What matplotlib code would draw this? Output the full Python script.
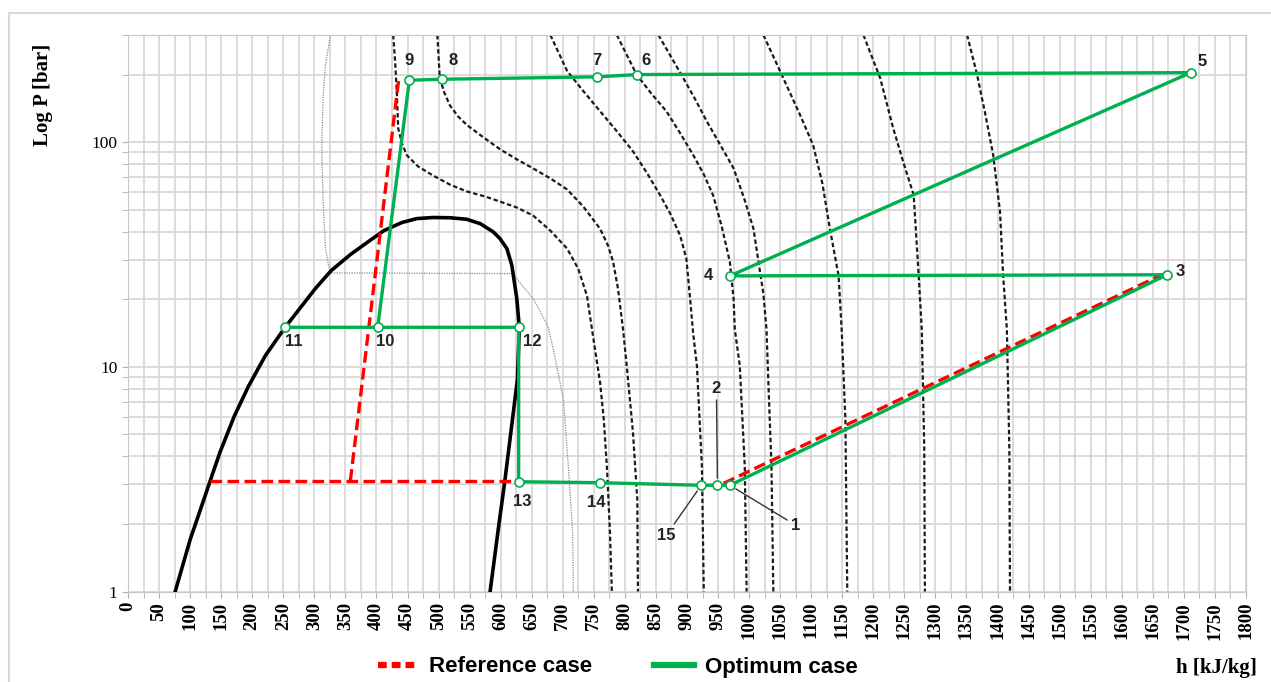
import matplotlib
matplotlib.use('Agg')
import matplotlib.pyplot as plt
from matplotlib.lines import Line2D
from matplotlib.patches import Rectangle
from matplotlib.ticker import MultipleLocator, LogLocator, NullFormatter

# saturation dome (h kJ/kg, P bar)
dome_h = [76, 100, 122, 133, 148, 171, 194, 221, 253, 280, 301, 327, 358, 387, 412, 441, 465, 491, 518, 545,
          567, 588, 599, 610, 618, 626, 630, 627, 617, 607, 596, 583]
dome_p = [1.0, 1.70, 2.56, 3.15, 4.16, 6.02, 8.20, 11.2, 15.0, 18.7, 22.2, 26.8, 31.6, 36.1, 40.4, 43.9, 45.7, 46.2, 46.1, 45.4,
          43.4, 39.9, 37.2, 33.6, 28.3, 20.1, 15.0, 8.81, 5.27, 3.15, 1.88, 1.0]

# thin isotherm crossing the two-phase region
iso0_h = [326, 318, 314, 312, 314, 318, 323, 326, 619, 653, 676, 685, 701, 709, 716, 717]
iso0_p = [300, 221, 157, 94, 56, 33.6, 28.2, 26.2, 26.0, 20.0, 15.2, 11.9, 7.15, 3.59, 1.82, 1.0]

# dashed isotherms
iso_h = [
    [427, 430, 433, 435, 441, 449, 467, 491, 518, 546, 575, 599, 626, 652, 680, 707, 725, 739, 747, 760, 766, 771, 776, 779],
    [498, 502, 509, 518, 531, 546, 572, 599, 626, 652, 680, 707, 733, 760, 773, 781, 789, 797, 803, 813, 820, 821],
    [680, 707, 733, 760, 787, 813, 836, 857, 873, 889, 899, 905, 910, 916, 924, 927],
    [787, 819, 842, 867, 889, 910, 927, 942, 956, 969, 975, 977, 985, 993, 996],
    [854, 894, 913, 932, 953, 975, 992, 1007, 1023, 1028, 1031, 1036, 1039],
    [1023, 1050, 1082, 1103, 1118, 1130, 1144, 1149, 1155, 1158],
    [1184, 1211, 1232, 1248, 1265, 1273, 1278, 1282, 1283],
    [1351, 1367, 1380, 1393, 1404, 1409, 1415, 1419, 1420],
]
iso_p = [
    [300, 230, 162, 115.4, 98.9, 87.4, 78.0, 71.1, 64.8, 60.3, 57.3, 54.4, 51.2, 47.2, 40.4, 33.6, 27.3, 20.7, 14.7, 8.55, 5.84, 3.60, 1.83, 1.0],
    [300, 193, 167, 146.2, 130.6, 119, 105.2, 93, 83.9, 76.5, 69, 61.6, 51.7, 41.2, 34.6, 29.4, 22.2, 14.7, 10.1, 5.11, 2.56, 1.0],
    [300, 207.5, 168.9, 137.4, 111.9, 91.1, 72.6, 57.9, 48.1, 38.4, 30.3, 20.1, 14.0, 10.1, 3.60, 1.0],
    [300, 199.7, 165.4, 137.1, 109.6, 87.7, 71.9, 58.1, 42.1, 29.3, 20.1, 14.7, 10.1, 3.61, 1.0],
    [300, 193, 155.5, 123.6, 97.9, 76.5, 56.2, 41.2, 21.1, 14.7, 8.52, 3.61, 1.0],
    [300, 206.8, 132.3, 97.2, 65.5, 41.2, 25.5, 14.7, 5.84, 1.0],
    [300, 193, 115.4, 81.9, 58.1, 25.5, 14.7, 4.29, 1.0],
    [300, 199.7, 134.6, 87.7, 49.0, 25.5, 14.7, 4.29, 1.0],
]

# optimum cycle state points
pt_names = ['1', '2', '3', '4', '5', '6', '7', '8', '9', '10', '11', '12', '13', '14', '15']
pt_h = [969, 949, 1673, 969, 1711, 820, 755, 505, 453, 402, 252, 629, 629, 760, 923]
pt_p = [2.97, 2.97, 25.7, 25.4, 204, 200, 195.4, 190.6, 188.7, 15, 15, 15, 3.08, 3.05, 2.97]
opt_paths = [['1', '3', '4', '5', '6', '7', '8', '9', '10'],
             ['11', '10', '12', '13', '14', '15', '2', '1']]

# reference case segments
ref_h = [[132, 628], [358, 436], [959, 1663]]
ref_p = [[3.11, 3.11], [3.11, 192], [3.03, 25.6]]

# label offsets (pixels)
lab_off = {'1': (66, -40), '2': (-1, 97), '3': (13, 3), '4': (-21, 0), '5': (11, 11),
           '6': (9, 14), '7': (0, 16), '8': (11, 19), '9': (0, 20), '10': (8, -14),
           '11': (9, -14), '12': (14, -14), '13': (4, -20), '14': (-4, -20), '15': (-35, -50)}
leaders = ['1', '2', '15']

green = '#00B050'

fig = plt.figure(figsize=(12.71, 6.82), dpi=100)
ax = fig.add_axes([128 / 1271, 1 - 591.5 / 682, 1118 / 1271, 556.5 / 682])
ax.set_yscale('log')
ax.set_xlim(0, 1800)
ax.set_ylim(1, 300)

ax.xaxis.set_major_locator(MultipleLocator(50))
ax.xaxis.set_minor_locator(MultipleLocator(25))
ax.set_yticks([1, 10, 100])
ax.set_yticklabels(['1', '10', '100'])
ax.yaxis.set_minor_locator(LogLocator(base=10, subs=range(2, 10)))
ax.yaxis.set_minor_formatter(NullFormatter())
ax.grid(which='both', color='#d6d6d6', lw=1.2, zorder=0)
ax.set_axisbelow(True)
for s in ax.spines.values():
    s.set_color('#c8c8c8')
ax.tick_params(which='both', length=4, color='#b0b0b0')
for t in ax.get_xticklabels():
    t.set_rotation(90)
    t.set_fontfamily('Liberation Serif')
    t.set_fontsize(13.5)
    t.set_fontweight('bold')
for t in ax.get_yticklabels():
    t.set_fontfamily('Liberation Serif')
    t.set_fontsize(12.5)

ax.plot(iso0_h, iso0_p, color='#888888', lw=0.9, ls=(0, (1, 1)), zorder=2)
for hh, pp in zip(iso_h, iso_p):
    ax.plot(hh, pp, color='#1a1a1a', lw=1.6, ls=(0, (2, 1.2)), zorder=2)
ax.plot(dome_h, dome_p, color='black', lw=2.6, zorder=3)

for hh, pp in zip(ref_h, ref_p):
    ax.plot(hh, pp, color='red', lw=2.4, ls=(0, (3.5, 1.6)), zorder=4)

idx = {n: i for i, n in enumerate(pt_names)}
for path in opt_paths:
    ax.plot([pt_h[idx[n]] for n in path], [pt_p[idx[n]] for n in path],
            color=green, lw=2.4, zorder=5)
ax.plot(pt_h, pt_p, ls='none', marker='o', ms=6.5, mfc='white', mec=green, mew=1.2, zorder=6)

for n, h, p in zip(pt_names, pt_h, pt_p):
    kw = {}
    if n in leaders:
        kw['arrowprops'] = dict(arrowstyle='-', color='#333333', lw=1, shrinkA=1, shrinkB=5)
    ax.annotate(n, (h, p), xytext=lab_off[n], textcoords='offset pixels',
                ha='center', va='center', fontsize=12, fontweight='bold',
                family='Liberation Sans', color='#222222', zorder=7, **kw)

fig.text(43 / 1271, 1 - 95 / 682, 'Log P [bar]', rotation=90, ha='center', va='center',
         family='Liberation Serif', fontweight='bold', fontsize=15)
fig.text(1216 / 1271, 1 - 668 / 682, 'h [kJ/kg]', ha='center', va='center',
         family='Liberation Serif', fontweight='bold', fontsize=15)

handles = [Line2D([], [], color='red', lw=4.5, ls=(0, (1.4, 0.8))),
           Line2D([], [], color=green, lw=4.5)]
fig.legend(handles, ['Reference case', 'Optimum case'], loc='center',
           bbox_to_anchor=(618 / 1271, 1 - 667 / 682), ncol=2, frameon=False,
           prop=dict(family='Liberation Sans', weight='bold', size=16),
           handlelength=1.8, handletextpad=0.5, columnspacing=2.8)

fig.patches.append(Rectangle((9 / 1271, -0.1), 1.2, 1.1 - 13 / 682, transform=fig.transFigure,
                             fill=False, ec='#d9d9d9', lw=1.5))

fig.savefig('out.png', dpi=100)
